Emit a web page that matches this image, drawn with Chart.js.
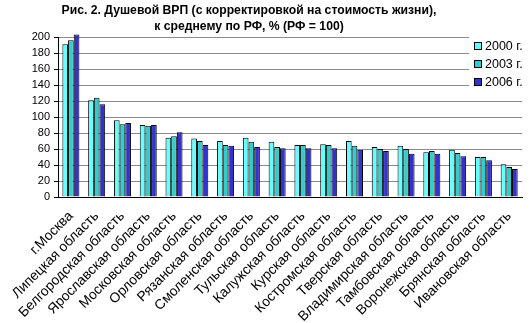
<!DOCTYPE html>
<html>
<head>
<meta charset="utf-8">
<script src="https://cdn.jsdelivr.net/npm/chart.js@4/dist/chart.umd.min.js"></script>
<style>
  html, body { margin: 0; padding: 0; background: #fff; }
</style>
</head>
<body>
<canvas id="vrp" width="532" height="323"></canvas>
<script>
const regions = [
  'г.Москва', 'Липецкая область', 'Белгородская область', 'Ярославская область',
  'Московская область', 'Орловская область', 'Рязанская область', 'Смоленская область',
  'Тульская область', 'Калужская область', 'Курская область', 'Костромская область',
  'Тверская область', 'Владимирская область', 'Тамбовская область', 'Воронежская область',
  'Брянская область', 'Ивановская область'
];
const vrp2000 = [191, 121, 96, 90, 74, 73, 70, 74, 69, 65, 66, 70, 62.5, 64, 56, 59, 50, 41];
const vrp2003 = [196, 124, 91, 89, 76, 70, 65, 69, 62.5, 65, 65, 64, 60, 60, 57.5, 55, 50, 37.5];
const vrp2006 = [203, 116, 92.5, 90, 81, 65, 64, 62.5, 61, 61, 61, 59, 57.5, 54, 54, 51, 46, 35];
const yTicks = [0, 20, 40, 60, 80, 100, 120, 140, 160, 180, 200];
const titleLines = [
  'Рис. 2. Душевой ВРП (с корректировкой на стоимость жизни),',
  'к среднему по РФ, % (РФ = 100)'
];

const FONT = 'Arial, "Liberation Sans", sans-serif';

// title text, centred over the left part of the chart
const titlePlugin = {
  id: 'titleText',
  afterDraw(chart) {
    const ctx = chart.ctx;
    ctx.save();
    ctx.fillStyle = '#000';
    ctx.font = 'bold 12.2px ' + FONT;
    ctx.textAlign = 'center';
    ctx.textBaseline = 'middle';
    titleLines.forEach((t, i) => ctx.fillText(t, 249, 11 + i * 16));
    ctx.restore();
  }
};

// legend box sitting over the top right of the plot
const boxLegend = {
  id: 'boxLegend',
  afterDatasetsDraw(chart) {
    const ctx = chart.ctx;
    ctx.save();
    ctx.fillStyle = '#fff';
    ctx.fillRect(469, 36, 63, 58);
    ctx.font = '12.5px ' + FONT;
    ctx.textBaseline = 'middle';
    chart.data.datasets.forEach((ds, i) => {
      const y = 46 + i * 18;
      ctx.fillStyle = ds.backgroundColor;
      ctx.fillRect(474.5, y - 3.5, 7, 7);
      ctx.strokeStyle = '#000';
      ctx.lineWidth = 1;
      ctx.strokeRect(474.5, y - 3.5, 7, 7);
      ctx.fillStyle = '#000';
      ctx.fillText(ds.label, 485, y + 1);
    });
    ctx.restore();
  }
};

new Chart(document.getElementById('vrp'), {
  type: 'bar',
  data: {
    labels: regions,
    datasets: [
      { label: '2000 г.', data: vrp2000, backgroundColor: '#66ffff' },
      { label: '2003 г.', data: vrp2003, backgroundColor: '#33cccc' },
      { label: '2006 г.', data: vrp2006, backgroundColor: '#3333cc' }
    ]
  },
  plugins: [titlePlugin, boxLegend],
  options: {
    responsive: false,
    devicePixelRatio: 1,
    animation: false,
    layout: { padding: { top: 37, right: 4, left: 0, bottom: 0 } },
    datasets: {
      bar: {
        borderColor: '#000',
        borderWidth: 1,
        categoryPercentage: 0.66,
        barPercentage: 1,
        clip: false
      }
    },
    plugins: {
      legend: { display: false },
      title: { display: false },
      tooltip: { enabled: false }
    },
    scales: {
      x: {
        grid: { drawOnChartArea: false, drawTicks: false },
        border: { color: '#000', width: 1 },
        ticks: {
          autoSkip: false,
          minRotation: 45,
          maxRotation: 45,
          color: '#000',
          padding: 11,
          font: { family: FONT, size: 13.8 }
        },
        afterFit: s => { s.height = 126; }
      },
      y: {
        min: 0,
        max: 200,
        afterBuildTicks: s => { s.ticks = yTicks.map(v => ({ value: v })); },
        grid: { color: '#8c8c8c', tickColor: '#000', tickLength: 4 },
        border: { color: '#000', width: 1 },
        ticks: {
          autoSkip: false,
          color: '#000',
          padding: 4,
          font: { family: FONT, size: 11 }
        },
        afterFit: s => { s.width = 58; }
      }
    }
  }
});
</script>
</body>
</html>
